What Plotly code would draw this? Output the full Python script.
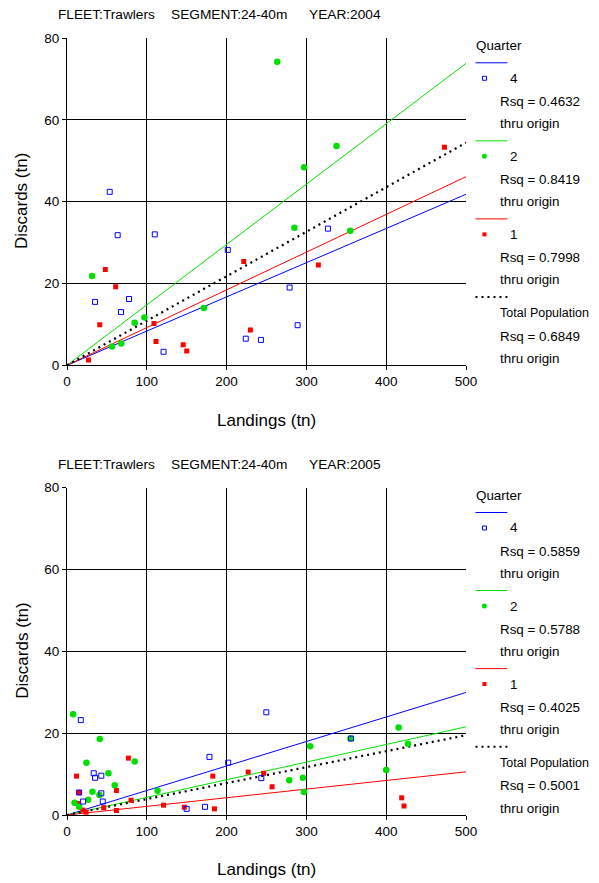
import plotly.graph_objects as go

# ---------------- DATA ----------------
years = ["2004", "2005"]
quarter_labels = ["4", "2", "1"]

# 2004
q4_x_2004 = [53.5, 63.5, 110, 201.5, 35.2, 77.7, 67.7, 121, 224, 243, 327, 279, 289]
q4_y_2004 = [42.4, 31.8, 32.0, 28.2, 15.5, 16.2, 13.0, 3.3, 6.5, 6.2, 33.4, 19.0, 9.8]
q2_x_2004 = [263.5, 31.5, 84.8, 97, 56.5, 68, 171.5, 337.7, 297, 285, 355]
q2_y_2004 = [74.2, 21.8, 10.4, 11.7, 4.6, 5.3, 14.0, 53.6, 48.4, 33.6, 32.9]
q1_x_2004 = [48, 61, 41, 109, 111.5, 145.6, 150, 27, 221.5, 229.8, 473, 315]
q1_y_2004 = [23.4, 19.2, 9.9, 10.2, 5.8, 5.0, 3.5, 1.3, 25.4, 8.6, 53.3, 24.5]
slopes_2004 = {"4": 0.0836, "2": 0.1476, "1": 0.0922, "Total": 0.1088}
rsq_2004 = {"4": "0.4632", "2": "0.8419", "1": "0.7998", "Total": "0.6849"}

# 2005
q4_x_2005 = [17.3, 249.8, 178.5, 202, 33.5, 35.2, 43, 43, 15.2, 44.8, 20.2, 243.5, 150, 173, 356]
q4_y_2005 = [23.2, 25.1, 14.2, 12.8, 10.2, 9.1, 9.6, 5.3, 5.5, 3.3, 3.3, 9.0, 1.5, 2.0, 18.7]
q2_x_2005 = [7.7, 41, 24.4, 84.8, 51.9, 59.8, 31.9, 40.6, 26.5, 9.4, 15.2, 113.5, 304.8, 355.2,
             415.6, 427.3, 278.5, 295.6, 296.9, 400]
q2_y_2005 = [24.6, 18.6, 12.8, 13.1, 10.2, 7.3, 5.7, 4.9, 3.7, 3.0, 2.0, 5.9, 16.8, 18.7,
             21.4, 17.4, 8.5, 9.1, 5.6, 11.0]
q1_x_2005 = [76.9, 11.9, 15.6, 61.9, 13.5, 80.2, 46, 61.9, 24, 20, 121, 147, 182.7, 184.8,
             227, 246.5, 257, 419.4, 422.3]
q1_y_2005 = [13.9, 9.5, 5.5, 6.0, 2.8, 3.6, 1.8, 1.1, 0.7, 1.2, 2.4, 1.9, 9.5, 1.5,
             10.5, 10.2, 6.9, 4.2, 2.2]
slopes_2005 = {"4": 0.0599, "2": 0.0431, "1": 0.0211, "Total": 0.0390}
rsq_2005 = {"4": "0.5859", "2": "0.5788", "1": "0.4025", "Total": "0.5001"}

x_ticks = [0, 100, 200, 300, 400, 500]
y_ticks = [0, 20, 40, 60, 80]
line_x = [0, 500]

# ---------------- STYLE ----------------
PAGE_OFF = 8          # browser default body margin
PW_, PH_ = 599, 883   # page size
W, H = PW_ - PAGE_OFF, PH_ - PAGE_OFF
# plot area in page pixels
P_LEFT, P_RIGHT = 66.5, 466.5
P_BOTTOM = 815
ML = P_LEFT - PAGE_OFF
MR = W - (P_RIGHT - PAGE_OFF)
MT = 37.5 - PAGE_OFF
MB = H - (P_BOTTOM - PAGE_OFF)
PW = W - ML - MR
PH = H - MT - MB
FONT = "Liberation Sans, Arial, sans-serif"
BLUE, GREEN, RED = "#0000ff", "#00e000", "#ff0000"
colors = {"4": BLUE, "2": GREEN, "1": RED}
DOT = "2px,4px"


def px2x(px):
    return (px - PAGE_OFF - ML) / PW


def py2y(py):
    return (H - MB - (py - PAGE_OFF)) / PH


top_dom = [py2y(365), py2y(37.5)]
bot_dom = [py2y(815), py2y(487.5)]

fig = go.Figure()

panels = [
    ("x", "y", 0, "2004",
     {"4": (q4_x_2004, q4_y_2004), "2": (q2_x_2004, q2_y_2004), "1": (q1_x_2004, q1_y_2004)},
     slopes_2004, rsq_2004),
    ("x2", "y2", 450, "2005",
     {"4": (q4_x_2005, q4_y_2005), "2": (q2_x_2005, q2_y_2005), "1": (q1_x_2005, q1_y_2005)},
     slopes_2005, rsq_2005),
]

marker_styles = {
    "4": dict(symbol="square-open", size=5, color=BLUE, line=dict(width=1, color=BLUE)),
    "2": dict(symbol="circle", size=6.5, color=GREEN, line=dict(width=0)),
    "1": dict(symbol="square", size=5, color=RED, line=dict(width=0)),
}

annotations = []
shapes = []


def txt_ann(text, px, py, size, anchor="left", angle=0):
    return dict(text=text, x=px2x(px), y=py2y(py), xref="paper", yref="paper",
                xanchor=anchor, yanchor="middle", showarrow=False, textangle=angle,
                font=dict(family=FONT, size=size, color="black"))


for xa, ya, off, yr, pts, slopes, rsq in panels:
    # regression lines through origin
    for q in quarter_labels:
        fig.add_trace(go.Scatter(x=line_x, y=[slopes[q] * v for v in line_x], mode="lines",
                                 line=dict(color=colors[q], width=1), xaxis=xa, yaxis=ya,
                                 showlegend=False, hoverinfo="skip"))
    fig.add_trace(go.Scatter(x=line_x, y=[slopes["Total"] * v for v in line_x], mode="lines",
                             line=dict(color="black", width=2.2, dash=DOT), xaxis=xa, yaxis=ya,
                             showlegend=False, hoverinfo="skip"))
    for q in ["1", "2", "4"]:
        xs, ys = pts[q]
        fig.add_trace(go.Scatter(x=xs, y=ys, mode="markers", marker=marker_styles[q],
                                 xaxis=xa, yaxis=ya, showlegend=False, name=q))

    # titles
    for t, px in [("FLEET:Trawlers", 55.5), ("SEGMENT:24-40m", 169), ("YEAR:" + yr, 307.5)]:
        annotations.append(txt_ann(t, px, 14 + off, 13.7))
    annotations.append(txt_ann("Landings (tn)", 266.5, 420 + off, 17, anchor="center"))
    annotations.append(txt_ann("Discards (tn)", 21, 201 + off, 17, anchor="center", angle=-90))

    # legend (drawn as text + samples)
    LS = 13.4
    annotations.append(txt_ann("Quarter", 475, 45 + off, LS))
    base = 62.3
    for i, q in enumerate(quarter_labels):
        b = base + 78.1 * i + off
        shapes.append(dict(type="line", xref="paper", yref="paper", x0=px2x(476), x1=px2x(508),
                           y0=py2y(b), y1=py2y(b), line=dict(color=colors[q], width=1)))
        cy = b + 15.5
        if q == "4":
            shapes.append(dict(type="rect", xref="paper", yref="paper", x0=px2x(483), x1=px2x(487),
                               y0=py2y(cy - 2), y1=py2y(cy + 2), line=dict(color=BLUE, width=1)))
        elif q == "2":
            shapes.append(dict(type="circle", xref="paper", yref="paper", x0=px2x(482.5), x1=px2x(487.5),
                               y0=py2y(cy - 2.5), y1=py2y(cy + 2.5), fillcolor=GREEN,
                               line=dict(color=GREEN, width=0)))
        else:
            shapes.append(dict(type="rect", xref="paper", yref="paper", x0=px2x(483), x1=px2x(487),
                               y0=py2y(cy - 2), y1=py2y(cy + 2), fillcolor=RED,
                               line=dict(color=RED, width=0)))
        annotations.append(txt_ann(q, 509, cy, LS))
        annotations.append(txt_ann("Rsq = " + rsq[q], 499, b + 38.7, LS))
        annotations.append(txt_ann("thru origin", 499, b + 61, LS))
    b = base + 78.1 * 3 + off
    shapes.append(dict(type="line", xref="paper", yref="paper", x0=px2x(476), x1=px2x(508),
                       y0=py2y(b), y1=py2y(b), line=dict(color="black", width=2, dash=DOT)))
    annotations.append(txt_ann("Total Population", 499, b + 16, 12.5))
    annotations.append(txt_ann("Rsq = " + rsq["Total"], 499, b + 39.3, LS))
    annotations.append(txt_ann("thru origin", 499, b + 61.6, LS))

axis_common = dict(showgrid=True, gridcolor="black", gridwidth=1, zeroline=False,
                   showline=True, linecolor="black", linewidth=1, ticks="outside", ticklen=4,
                   tickcolor="black", tickfont=dict(family=FONT, size=13.5, color="black"),
                   mirror=False)

fig.update_layout(
    width=W, height=H,
    margin=dict(l=ML, r=MR, t=MT, b=MB, pad=0),
    paper_bgcolor="white", plot_bgcolor="white",
    showlegend=False,
    xaxis=dict(domain=[0, 1], anchor="y", range=[0, 500], tickvals=x_ticks, **axis_common),
    yaxis=dict(domain=top_dom, anchor="x", range=[0, 80], tickvals=y_ticks, **axis_common),
    xaxis2=dict(domain=[0, 1], anchor="y2", range=[0, 500], tickvals=x_ticks, **axis_common),
    yaxis2=dict(domain=bot_dom, anchor="x2", range=[0, 80], tickvals=y_ticks, **axis_common),
    annotations=annotations,
    shapes=shapes,
)

fig.write_html("out.html")
